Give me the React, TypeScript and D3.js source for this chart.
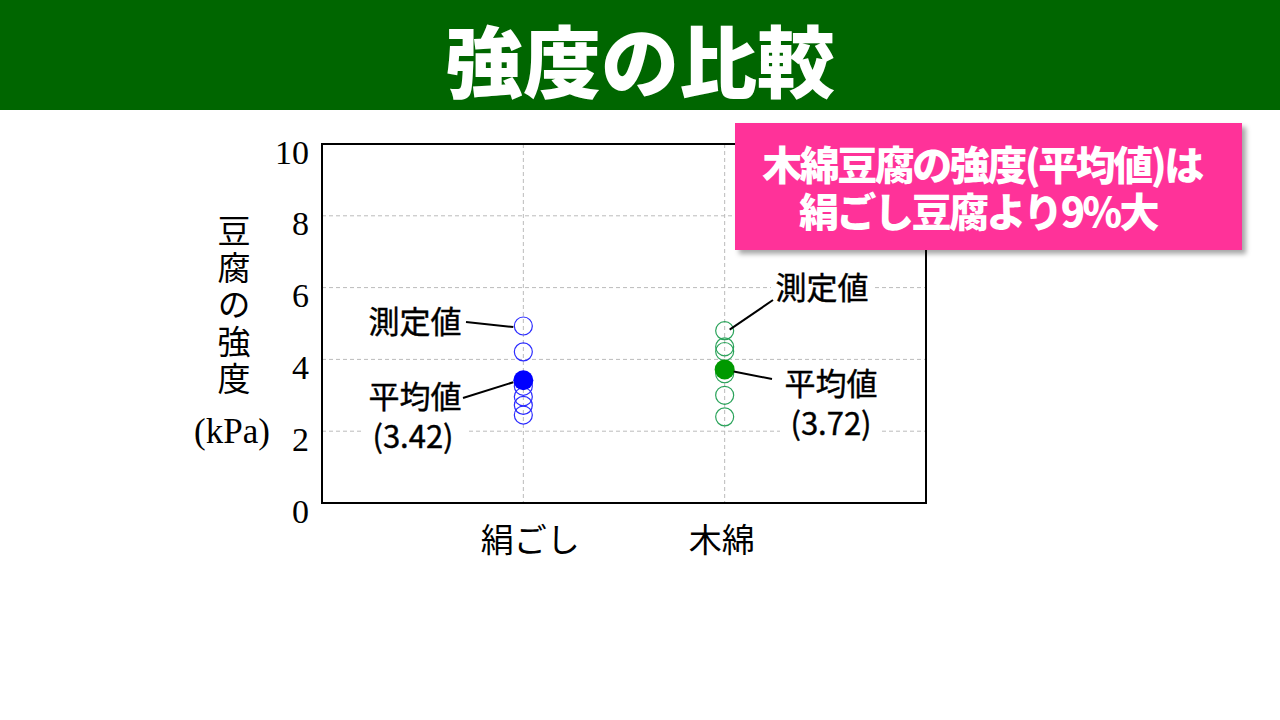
import * as d3 from "d3";

// 豆腐の強度 (kPa)
const categories = ["絹ごし", "木綿"];
const kinugoshiValues = [4.93, 4.21, 3.25, 2.96, 2.72, 2.45];
const momenValues = [4.8, 4.35, 4.22, 3.6, 3.0, 2.4];
const meanValues = [3.42, 3.72];
const yTicks = [0, 2, 4, 6, 8, 10];

const seriesValues = [kinugoshiValues, momenValues];
const seriesColors = ["#0000ff", "#009900"];
const openStroke = ["#2b2bff", "#2aa35a"];
const labelShift = [7, -3];

const W = 1280;
const H = 720;
const margin = { top: 144, right: 354, bottom: 217, left: 322 };

const jp = "'Noto Sans CJK JP', 'Noto Sans', sans-serif";
const serif = "'Liberation Serif', 'DejaVu Serif', serif";

export default function App() {
  const x = d3
    .scaleLinear()
    .domain([0, categories.length + 1])
    .range([margin.left, W - margin.right]);
  const y = d3
    .scaleLinear()
    .domain([0, 10])
    .range([H - margin.bottom, margin.top]);

  const x0 = x.range()[0];
  const x1 = x.range()[1];
  const yTop = y(10);
  const yBot = y(0);

  const cx = (i: number) => x(i + 1);

  return (
    <div style={{ position: "fixed", left: 0, top: 0, width: W, height: H, background: "#fff" }}>
      <svg width={W} height={H} viewBox={`0 0 ${W} ${H}`} style={{ display: "block" }}>
        <defs>
          <filter id="shadow" x="-10%" y="-10%" width="130%" height="140%">
            <feDropShadow dx="4" dy="4" stdDeviation="2.5" floodColor="#000" floodOpacity="0.35" />
          </filter>
        </defs>

        {/* title bar */}
        <rect x={0} y={0} width={W} height={110} fill="#006600" />
        <text
          x={W / 2}
          y={58}
          textAnchor="middle"
          dominantBaseline="central"
          fill="#fff"
          fontFamily={jp}
          fontWeight={900}
          fontSize={78}
        >
          強度の比較
        </text>

        {/* grid */}
        <g stroke="#bbbbbb" strokeWidth={1} strokeDasharray="4,3">
          {yTicks
            .filter((t) => t > 0 && t < 10)
            .map((t) => (
              <line key={t} x1={x0} x2={x1} y1={y(t)} y2={y(t)} />
            ))}
          {categories.map((c, i) => (
            <line key={c} x1={cx(i)} x2={cx(i)} y1={yTop} y2={yBot} />
          ))}
        </g>

        {/* frame */}
        <rect x={x0} y={yTop} width={x1 - x0} height={yBot - yTop} fill="none" stroke="#000" strokeWidth={2} />

        {/* y ticks */}
        <g fontFamily={serif} fontSize={34} fill="#000" textAnchor="end">
          {yTicks.map((t) => (
            <text key={t} x={309} y={y(t) + 8} dominantBaseline="central">
              {t}
            </text>
          ))}
        </g>

        {/* y label */}
        <text
          x={234}
          y={214}
          fontFamily={jp}
          fontSize={33}
          fill="#000"
          letterSpacing={4}
          style={{ writingMode: "vertical-rl" }}
        >
          豆腐の強度
        </text>
        <text x={232} y={431} textAnchor="middle" dominantBaseline="central" fontFamily={serif} fontSize={35}>
          (kPa)
        </text>

        {/* x labels */}
        <g fontFamily={jp} fontSize={33} fill="#000" textAnchor="middle">
          {categories.map((c, i) => (
            <text key={c} x={cx(i) + labelShift[i]} y={538} dominantBaseline="central">
              {c}
            </text>
          ))}
        </g>

        {/* label backgrounds (hide grid behind annotations) */}
        <g fill="#fff">
          <rect x={364} y={306} width={102} height={38} />
          <rect x={364} y={380} width={102} height={78} />
          <rect x={771} y={270} width={102} height={40} />
          <rect x={780} y={366} width={102} height={80} />
        </g>

        {/* measured points */}
        {seriesValues.map((vals, i) => (
          <g key={i} fill="none" stroke={openStroke[i]} strokeWidth={1.2}>
            {vals.map((v, j) => (
              <circle key={j} cx={cx(i)} cy={y(v)} r={9} />
            ))}
          </g>
        ))}

        {/* means */}
        {meanValues.map((m, i) => (
          <circle key={i} cx={cx(i)} cy={y(m)} r={10} fill={seriesColors[i]} />
        ))}

        {/* leader lines */}
        <g stroke="#000" strokeWidth={2}>
          <line x1={466} y1={322} x2={cx(0) - 10} y2={y(kinugoshiValues[0]) + 1} />
          <line x1={463} y1={398} x2={cx(0) - 10} y2={y(meanValues[0]) + 2} />
          <line x1={773} y1={300} x2={cx(1) + 5} y2={y(momenValues[0]) - 1} />
          <line x1={772} y1={379} x2={cx(1) + 9} y2={y(meanValues[1]) + 2} />
        </g>

        {/* annotation text */}
        <g fontFamily={jp} fontSize={31} fill="#000" textAnchor="middle" stroke="#000" strokeWidth={0.4}>
          <text x={415} y={333}>測定値</text>
          <text x={415} y={408}>
            平均値
            <tspan x={413} dy={40}>({meanValues[0].toFixed(2)})</tspan>
          </text>
          <text x={822} y={299}>測定値</text>
          <text x={831} y={395}>
            平均値
            <tspan x={831} dy={40}>({meanValues[1].toFixed(2)})</tspan>
          </text>
        </g>

        {/* callout */}
        <rect x={735} y={123} width={507} height={127} fill="#ff3399" filter="url(#shadow)" />
        <text fontFamily={jp} fontWeight={900} fontSize={40} fill="#fff" textAnchor="middle" letterSpacing={-2.5}>
          <tspan x={982} y={180}>木綿豆腐の強度(平均値)は</tspan>
          <tspan x={978} y={227}>絹ごし豆腐より9%大</tspan>
        </text>
      </svg>
    </div>
  );
}
